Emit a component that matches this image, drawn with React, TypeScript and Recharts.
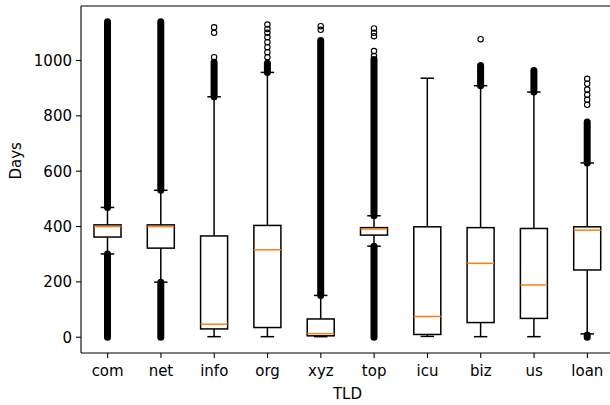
import React from "react";
import { Bar, ComposedChart, ReferenceLine, XAxis, YAxis } from "recharts";

// TLD boxplot of domain age in days
const categories = ["com", "net", "info", "org", "xyz", "top", "icu", "biz", "us", "loan"];
const whiskerLow = [301, 199, 2, 2, 2, 329, 3, 2, 2, 12];
const q1 = [362, 322, 30, 35, 5, 369, 10, 53, 68, 243];
const median = [400, 400, 47, 316, 13, 391, 75, 267, 189, 387];
const q3 = [406, 406, 366, 404, 66, 396, 399, 396, 393, 399];
const whiskerHigh = [469, 531, 869, 957, 151, 439, 936, 909, 886, 630];

// runs of outliers so dense they print as a solid bar: [from, to]
const flierBands: [number, number][][] = [
  [[0, 301], [469, 1140]],
  [[0, 199], [531, 1140]],
  [[869, 994]],
  [[957, 990]],
  [[151, 1072]],
  [[0, 329], [439, 1004]],
  [],
  [[909, 982]],
  [[886, 964]],
  [[0, 8], [630, 778]],
];

// single outliers drawn as open circles
const fliers: number[][] = [
  [],
  [],
  [1012, 1100, 1120],
  [1012, 1030, 1048, 1066, 1084, 1100, 1114, 1130],
  [1111, 1124],
  [1016, 1034, 1088, 1100, 1116],
  [],
  [1077],
  [],
  [840, 858, 876, 895, 916, 934],
];

const yTicks = [0, 200, 400, 600, 800, 1000];

const data = categories.map((tld, i) => ({
  tld,
  low: whiskerLow[i],
  q1: q1[i],
  median: median[i],
  q3: q3[i],
  high: whiskerHigh[i],
  bands: flierBands[i],
  fliers: fliers[i],
}));

const FONT = "DejaVu Sans, sans-serif";

function BoxShape(props: any) {
  const { x, y, width, height, payload } = props;
  const lo = payload.low;
  const hi = payload.high;
  const k = Math.abs(height) / (hi - lo);
  const top = Math.min(y, y + height);
  const toY = (v: number) => top + (hi - v) * k;
  const cx = x + width / 2;
  const capHalf = width / 4;
  const yQ1 = toY(payload.q1);
  const yQ3 = toY(payload.q3);
  const yMed = toY(payload.median);
  const yLo = toY(lo);
  const yHi = toY(hi);
  return (
    <g>
      <rect x={x} y={yQ3} width={width} height={yQ1 - yQ3} fill="none" stroke="#000" strokeWidth={1.5} />
      <line x1={x} x2={x + width} y1={yMed} y2={yMed} stroke="#ff7f0e" strokeWidth={1.5} />
      <line x1={cx} x2={cx} y1={yQ3} y2={yHi} stroke="#000" strokeWidth={1.5} />
      <line x1={cx} x2={cx} y1={yQ1} y2={yLo} stroke="#000" strokeWidth={1.5} />
      <line x1={cx - capHalf} x2={cx + capHalf} y1={yHi} y2={yHi} stroke="#000" strokeWidth={1.5} />
      <line x1={cx - capHalf} x2={cx + capHalf} y1={yLo} y2={yLo} stroke="#000" strokeWidth={1.5} />
      {payload.bands.map((b: [number, number], j: number) => (
        <line
          key={"b" + j}
          x1={cx}
          x2={cx}
          y1={toY(b[0])}
          y2={toY(b[1])}
          stroke="#000"
          strokeWidth={7}
          strokeLinecap="round"
        />
      ))}
      {payload.fliers.map((v: number, j: number) => (
        <circle key={"f" + j} cx={cx} cy={toY(v)} r={2.7} fill="none" stroke="#000" strokeWidth={1.1} />
      ))}
    </g>
  );
}

export default function App() {
  return (
    <div style={{ position: "absolute", left: 0, top: 0, width: 610, height: 405, overflow: "hidden", background: "#fff" }}>
      <ComposedChart
        width={620}
        height={405}
        data={data}
        margin={{ top: 6, right: 6, bottom: 0, left: 0 }}
        style={{ fontFamily: FONT }}
      >
        <XAxis
          dataKey="tld"
          height={52}
          tickSize={5}
          tickMargin={7}
          stroke="#000"
          axisLine={{ stroke: "#000", strokeWidth: 1.1 }}
          tickLine={{ stroke: "#000", strokeWidth: 1.1 }}
          tick={{ fill: "#000", fontSize: 15, fontFamily: FONT }}
          interval={0}
          label={{ value: "TLD", position: "insideBottom", offset: 6, fill: "#000", fontSize: 15, fontFamily: FONT }}
        />
        <YAxis
          type="number"
          domain={[-57, 1197]}
          ticks={yTicks}
          width={81}
          tickSize={5}
          tickMargin={4}
          stroke="#000"
          axisLine={{ stroke: "#000", strokeWidth: 1.1 }}
          tickLine={{ stroke: "#000", strokeWidth: 1.1 }}
          tick={{ fill: "#000", fontSize: 15, fontFamily: FONT }}
          allowDataOverflow
          label={{ value: "Days", angle: -90, position: "insideLeft", offset: 16, fill: "#000", fontSize: 15, fontFamily: FONT }}
        />
        <ReferenceLine y={1197} stroke="#000" strokeWidth={1.1} />
        <Bar
          dataKey={(d: any) => [d.low, d.high]}
          barSize={27}
          shape={BoxShape}
          isAnimationActive={false}
        />
      </ComposedChart>
    </div>
  );
}
